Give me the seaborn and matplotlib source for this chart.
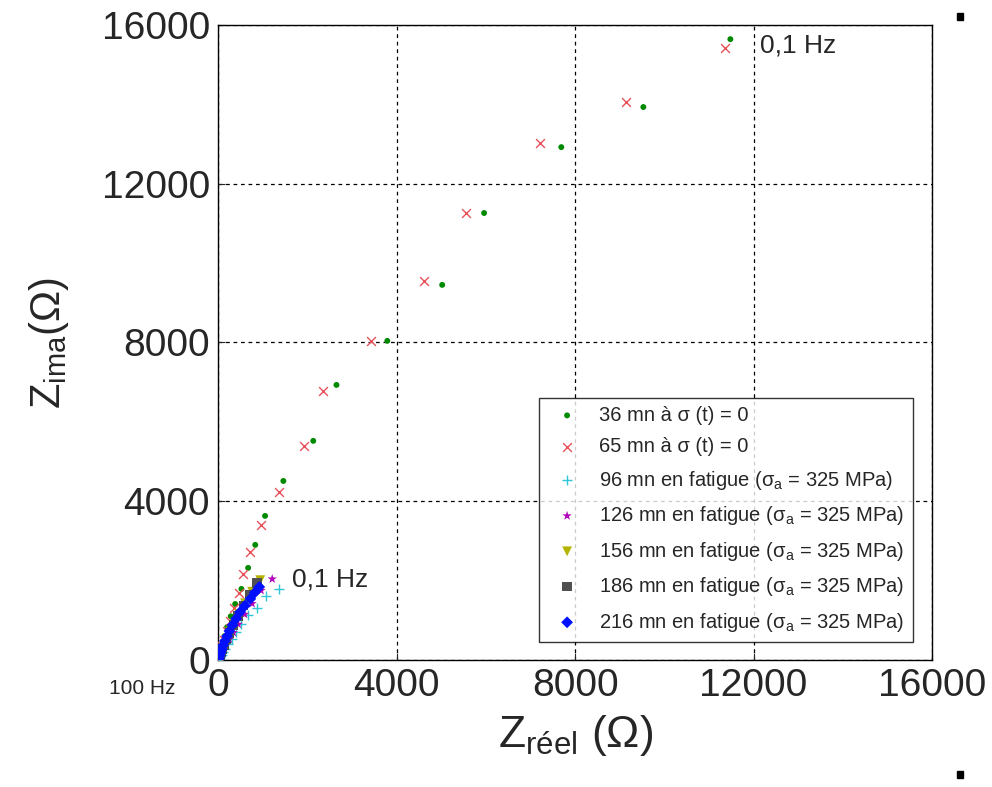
import pandas as pd
import matplotlib
matplotlib.use("Agg")
import matplotlib.pyplot as plt
import seaborn as sns

# data (Nyquist plot, ohms)
series_names = [
    "36 mn à σ (t) = 0",
    "65 mn à σ (t) = 0",
    r"96 mn en fatigue ($\mathregular{\sigma_a}$ = 325 MPa)",
    r"126 mn en fatigue ($\mathregular{\sigma_a}$ = 325 MPa)",
    r"156 mn en fatigue ($\mathregular{\sigma_a}$ = 325 MPa)",
    r"186 mn en fatigue ($\mathregular{\sigma_a}$ = 325 MPa)",
    r"216 mn en fatigue ($\mathregular{\sigma_a}$ = 325 MPa)",
]

z36_re = [11480, 9530, 7690, 5960, 5020, 3790, 2650, 2130, 1460, 1050, 830, 670, 520, 380, 280, 200, 140, 100, 70, 45, 30, 20, 10, 5]
z36_im = [15640, 13930, 12920, 11260, 9450, 8040, 6930, 5520, 4510, 3630, 2900, 2320, 1790, 1410, 1100, 830, 600, 420, 290, 190, 120, 70, 30, 10]

z65_re = [11350, 9150, 7220, 5560, 4620, 3430, 2350, 1930, 1370, 960, 720, 560, 470, 350, 260, 190, 130, 90, 60, 40, 25, 15, 8]
z65_im = [15420, 14060, 13020, 11260, 9550, 8040, 6780, 5390, 4230, 3400, 2720, 2170, 1690, 1300, 980, 720, 510, 350, 230, 140, 80, 40, 15]

z96_re = [1370, 1080, 870, 670, 520, 400, 300, 220, 160, 110, 75, 50, 30, 15]
z96_im = [1790, 1610, 1310, 1130, 900, 700, 530, 390, 280, 190, 120, 75, 40, 15]

z126_re = [1210, 960, 760, 590, 450, 340, 250, 180, 130, 90, 60, 35, 20]
z126_im = [2040, 1750, 1420, 1150, 900, 690, 520, 380, 270, 180, 110, 60, 25]

z156_re = [940, 760, 600, 470, 360, 270, 200, 150, 110, 75, 50, 30, 15]
z156_im = [2010, 1720, 1430, 1160, 920, 710, 540, 400, 290, 200, 130, 70, 30]

z186_re = [870, 710, 560, 440, 340, 260, 190, 140, 100, 70, 45, 25, 10]
z186_im = [1940, 1650, 1370, 1110, 880, 680, 510, 380, 270, 180, 110, 55, 20]

z216_re = [920, 820, 720, 600, 490, 400, 320, 250, 200, 150, 110, 80, 55, 35, 20, 10]
z216_im = [1840, 1700, 1540, 1370, 1210, 1040, 880, 730, 600, 480, 370, 270, 190, 120, 60, 20]

all_re = [z36_re, z65_re, z96_re, z126_re, z156_re, z186_re, z216_re]
all_im = [z36_im, z65_im, z96_im, z126_im, z156_im, z186_im, z216_im]

ticks = [0, 4000, 8000, 12000, 16000]

colors = ["#008a00", "#e8505a", "#30c8d8", "#b000b8", "#b4b400", "#505050", "#0010ff"]
markers = ["o", "x", "+", "*", "v", "s", "D"]
sizes = [18, 40, 60, 50, 50, 45, 36]

sns.set_style("ticks")
plt.rcParams["font.family"] = ["Liberation Sans", "DejaVu Sans"]
plt.rcParams["mathtext.fontset"] = "custom"
plt.rcParams["mathtext.rm"] = "Liberation Sans"
plt.rcParams["mathtext.it"] = "Liberation Sans"

rows = []
for name, re_, im_ in zip(series_names, all_re, all_im):
    for a, b in zip(re_, im_):
        rows.append({"serie": name, "Zreel": a, "Zima": b})
df = pd.DataFrame(rows)

fig = plt.figure(figsize=(9.92, 7.87), dpi=100)
ax = fig.add_axes([0.22, 0.1614, 0.7195, 0.807])

for i, name in enumerate(series_names):
    sub = df[df["serie"] == name]
    sns.scatterplot(data=sub, x="Zreel", y="Zima", ax=ax, color=colors[i],
                    marker=markers[i], s=sizes[i], label=name,
                    linewidth=1.0 if markers[i] in ("x", "+") else 0,
                    edgecolor=colors[i] if markers[i] in ("x", "+") else "none",
                    zorder=3)

ax.set_xlim(0, 16000)
ax.set_ylim(0, 16000)
ax.set_xticks(ticks)
ax.set_yticks(ticks)
ax.tick_params(direction="in", labelsize=28, length=5, pad=6)
ax.grid(True, linestyle=(0, (3, 3)), color="black", linewidth=0.9)
for sp in ax.spines.values():
    sp.set_color("black")
    sp.set_linewidth(1.0)

ax.set_xlabel(r"Z$_{\mathregular{réel}}$ ($\Omega$)", fontsize=32, labelpad=6)
ax.set_ylabel(r"Z$_{\mathregular{ima}}$($\Omega$)", fontsize=30, labelpad=22)

ax.text(12000 + 150, 15300, "0,1 Hz", fontsize=19)
ax.text(1650, 1850, "0,1 Hz", fontsize=19)
fig.text(0.11, 0.118, "100 Hz", fontsize=15)

leg = ax.legend(loc="lower right", bbox_to_anchor=(0.987, 0.013), fontsize=14.5,
                frameon=True, fancybox=False, edgecolor="black",
                handletextpad=0.6, labelspacing=0.62, borderpad=0.4,
                handlelength=2.0)
leg.get_frame().set_linewidth(1.0)

# small black marks at the right edge of the original image
fig.patches.append(plt.Rectangle((0.965, 0.975), 0.006, 0.008, transform=fig.transFigure, color="black"))
fig.patches.append(plt.Rectangle((0.965, 0.012), 0.006, 0.008, transform=fig.transFigure, color="black"))

fig.savefig("out.png", dpi=100)
